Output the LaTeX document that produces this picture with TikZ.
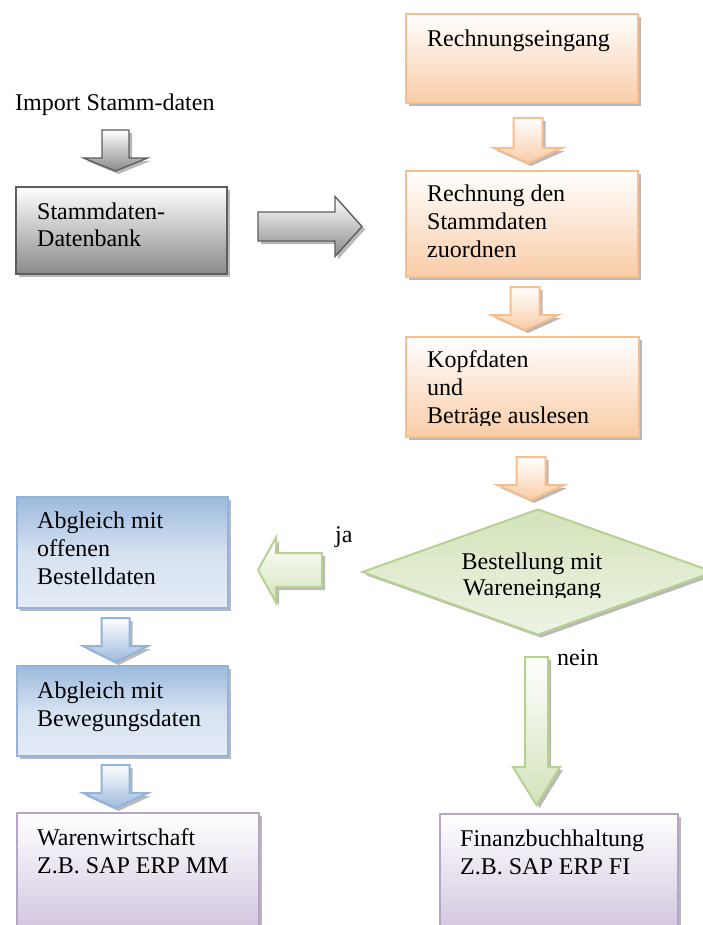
\documentclass[tikz,border=0pt]{standalone}
\usepackage{fontspec}
\setmainfont{Liberation Serif}
\usetikzlibrary{shadows,shapes.geometric}

\definecolor{orLine}{HTML}{F9BE8E}
\definecolor{orFill}{HTML}{F9CCA6}
\definecolor{blLine}{HTML}{93B3DB}
\definecolor{blFill}{HTML}{9DBADD}
\definecolor{blLight}{HTML}{E4ECF6}
\definecolor{puLine}{HTML}{B5A5CB}
\definecolor{puFill}{HTML}{CDBFDC}
\definecolor{grLine}{HTML}{B7D191}
\definecolor{grFill}{HTML}{D3E3BA}
\definecolor{grLight}{HTML}{EEF4E5}
\definecolor{gyLine}{HTML}{5E5E5E}
\definecolor{gyFill}{HTML}{8A8A8A}

% down-pointing block arrow: style, centre x, top, head base, tip, shaft half width, head half width
\newcommand\downblock[7]{%
  \draw[#1] ({#2-#6},#3) -- ({#2+#6},#3) -- ({#2+#6},#4) -- ({#2+#7},#4)
    -- (#2,#5) -- ({#2-#7},#4) -- ({#2-#6},#4) -- cycle;}

% text nodes are placed by the baseline of their last line
\tikzset{
  txt/.style={font=\fontsize{24}{27.6}\selectfont, inner sep=0pt, anchor=base west, align=left},
  ctxt/.style={font=\fontsize{24}{27.6}\selectfont, inner sep=0pt, anchor=base},
  shad/.style={drop shadow={shadow xshift=3pt, shadow yshift=-3pt, fill=black!50, opacity=.55}},
  box/.style={rectangle, inner sep=0pt, anchor=north west, shad},
  graybox/.style={box, draw=gyLine, line width=1.6pt, top color=white, bottom color=gyFill},
  orbox/.style={box, draw=orLine, line width=2.2pt, top color=white, bottom color=orFill},
  blbox/.style={box, draw=blLine, line width=2.2pt, top color=blFill, bottom color=blLight, middle color=blLight!80!blFill},
  pubox/.style={box, draw=puLine, line width=2.2pt, top color=white, bottom color=puFill},
  grarrowv/.style={shad, draw=gyLine, line width=1.4pt, top color=white, bottom color=gyFill},
  orarrow/.style={shad, draw=orLine, line width=2pt, top color=white, bottom color=orFill},
  blarrow/.style={shad, draw=blLine, line width=2pt, top color=white, bottom color=blFill},
  gnarrow/.style={shad, draw=grLine, line width=2pt, top color=white, bottom color=grFill},
}

\begin{document}
\begin{tikzpicture}[x=1pt, y=-1pt]
\useasboundingbox (0,0) rectangle (703,925);
\clip (0,0) rectangle (703,925);

% --- left column: master data ---
\node[txt] (imp) at (15,111) {Import Stamm-daten};
\downblock{grarrowv}{115.5}{130}{158}{171}{13.5}{32}
\node[graybox, minimum width=211pt, minimum height=87pt] (stamm) at (15,186) {};
\node[txt] (stammT) at (37,247) {Stammdaten-\\Datenbank};
% arrow from master data to invoice column
\draw[grarrowv] (258,212) -- (335,212) -- (335,196.5) -- (362,226.5)
  -- (335,256.5) -- (335,241) -- (258,241) -- cycle;

% --- right column: invoice processing ---
\node[orbox, minimum width=232pt, minimum height=89pt] (rech1) at (405,13) {};
\node[txt] (rech1T) at (427,47) {Rechnungseingang};
\downblock{orarrow}{528}{118}{148}{163}{14.5}{34}
\node[orbox, minimum width=232pt, minimum height=106pt] (rech2) at (405,170) {};
\node[txt] (rech2T) at (427,257) {Rechnung den\\Stammdaten\\zuordnen};
\downblock{orarrow}{525}{287}{315}{330}{14.5}{33.5}
\node[orbox, minimum width=233pt, minimum height=100pt] (kopf) at (405,336) {};
\begin{scope}
  \clip (405,336) rectangle (640,425);
  \node[txt] (kopfT) at (427,423) {Kopfdaten\\und\\Beträge auslesen};
\end{scope}
\downblock{orarrow}{531}{457}{485}{500}{14.5}{33.5}

% --- decision ---
\node[diamond, shad, draw=grLine, line width=2pt, top color=grFill, bottom color=grLight,
  inner sep=0pt, minimum width=352pt, minimum height=126pt] (best) at (538,572) {};
\begin{scope}
  \clip (380,540) rectangle (700,597);
  \node[ctxt] (bestA) at (532,569) {Bestellung mit};
  \node[ctxt] (bestB) at (532,595) {Wareneingang};
\end{scope}

% yes branch
\draw[gnarrow] (322,553) -- (276,553) -- (276,537.5) -- (258,570) -- (276,602.5)
  -- (276,587) -- (322,587) -- cycle;
\node[txt] (ja) at (335,542) {ja};
\node[blbox, minimum width=211pt, minimum height=111pt] (abgl1) at (16,496) {};
\node[txt] (abgl1T) at (37,584) {Abgleich mit\\offenen\\Bestelldaten};
\downblock{blarrow}{115.5}{618}{646}{662}{14}{32.5}
\node[blbox, minimum width=211pt, minimum height=90pt] (abgl2) at (16,665) {};
\node[txt] (abgl2T) at (37,726) {Abgleich mit\\Bewegungsdaten};
\downblock{blarrow}{115.5}{765}{793}{808}{14}{32.5}
\node[pubox, minimum width=242pt, minimum height=130pt] (waren) at (16,812) {};
\node[txt] (warenT) at (37,873) {Warenwirtschaft\\Z.B. SAP ERP MM};

% no branch
\downblock{gnarrow}{536.5}{657}{767}{805}{11.5}{23.5}
\node[txt] (nein) at (557,665) {nein};
\node[pubox, minimum width=238pt, minimum height=130pt] (finanz) at (439,813) {};
\node[txt] (finanzT) at (460,874) {Finanzbuchhaltung\\Z.B. SAP ERP FI};
\end{tikzpicture}
\end{document}
